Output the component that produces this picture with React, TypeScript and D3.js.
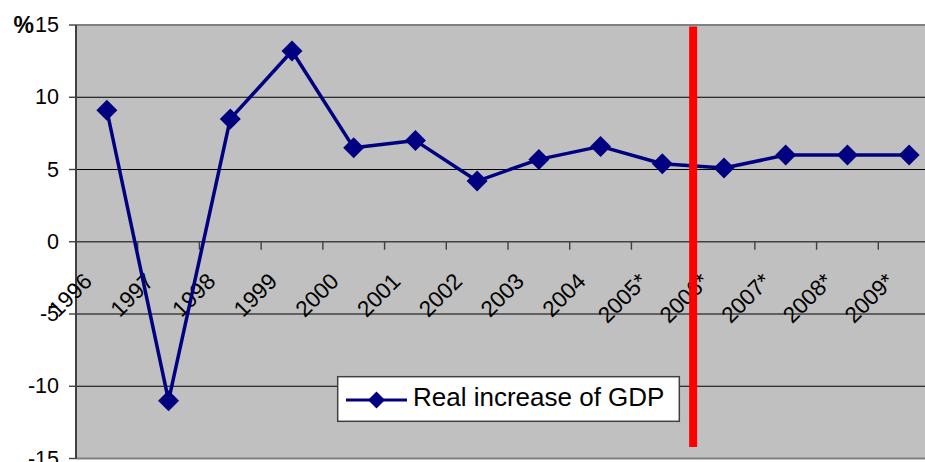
import React from "react";
import * as d3 from "d3";

// Real GDP growth, % per year (starred years are forecasts)
const years = ["1996", "1997", "1998", "1999", "2000", "2001", "2002", "2003", "2004", "2005*", "2006*", "2007*", "2008*", "2009*"];
const gdpGrowth = [9.1, -11.0, 8.5, 13.2, 6.5, 7.0, 4.2, 5.7, 6.6, 5.4, 5.1, 6.0, 6.0, 6.0];
const yTicks = [15, 10, 5, 0, -5, -10, -15];
const forecastStart = "2006*";
const seriesName = "Real increase of GDP";

const W = 925;
const H = 462;
const plot = { left: 76, top: 25, right: 940, bottom: 458.5 };
const FONT = "'Liberation Sans', Arial, Helvetica, sans-serif";
const NAVY = "#000080";

export default function App() {
  const x = d3.scaleBand<string>().domain(years).range([plot.left, plot.right]).paddingInner(0).paddingOuter(0);
  const y = d3.scaleLinear().domain([-15, 15]).range([plot.bottom, plot.top]);
  const cx = (c: string) => (x(c) ?? 0) + x.bandwidth() / 2;

  const line = d3
    .line<number>()
    .x((_, i) => cx(years[i]))
    .y((v) => y(v));

  const diamond = (px: number, py: number, r: number) =>
    `M${px},${py - r}L${px + r},${py}L${px},${py + r}L${px - r},${py}Z`;

  const boundaries = d3.range(1, years.length + 1).map((i) => plot.left + i * x.bandwidth());
  const redX = x(forecastStart) ?? 0;
  const y0 = y(0);

  return (
    <svg
      width={W}
      height={H}
      style={{ position: "absolute", left: 0, top: 0, background: "#fff", overflow: "hidden" }}
      fontFamily={FONT}
    >
      {/* plot area */}
      <rect x={plot.left} y={plot.top} width={plot.right - plot.left} height={plot.bottom - plot.top} fill="#C0C0C0" />
      <line x1={plot.left} x2={plot.right} y1={plot.top} y2={plot.top} stroke="#808080" strokeWidth={2} />
      <line x1={plot.left} x2={plot.right} y1={plot.bottom} y2={plot.bottom} stroke="#808080" strokeWidth={2} />

      {/* horizontal gridlines */}
      {yTicks
        .filter((t) => t !== 15 && t !== -15 && t !== 0)
        .map((t) => (
          <line key={t} x1={plot.left} x2={plot.right} y1={y(t)} y2={y(t)} stroke="#000" strokeWidth={1} />
        ))}

      {/* category axis on the zero line */}
      <line x1={plot.left} x2={plot.right} y1={y0} y2={y0} stroke="#404040" strokeWidth={1.6} />
      {boundaries.map((bx, i) => (
        <line key={i} x1={bx} x2={bx} y1={y0} y2={y0 + 8} stroke="#404040" strokeWidth={1.4} />
      ))}

      {/* value axis */}
      <line x1={plot.left} x2={plot.left} y1={plot.top} y2={plot.bottom} stroke="#404040" strokeWidth={2} />
      {yTicks.map((t) => (
        <g key={t}>
          <line x1={plot.left - 7} x2={plot.left} y1={y(t)} y2={y(t)} stroke="#404040" strokeWidth={1.4} />
          <text x={59} y={y(t)} dy="0.33em" textAnchor="end" fontSize={21.5} fill="#000">
            {t}
          </text>
        </g>
      ))}
      <text x={34} y={33} textAnchor="end" fontSize={23} fontWeight="bold" fill="#000">
        %
      </text>

      {/* rotated category labels */}
      {years.map((c) => (
        <text
          key={c}
          transform={`translate(${cx(c) - 13.5},${y0 + 41}) rotate(-45)`}
          textAnchor="end"
          fontSize={22.5}
          fill="#000"
        >
          {c}
        </text>
      ))}

      {/* series */}
      <path d={line(gdpGrowth) ?? ""} fill="none" stroke={NAVY} strokeWidth={3.5} strokeLinejoin="round" />
      {gdpGrowth.map((v, i) => (
        <path key={i} d={diamond(cx(years[i]), y(v), 10.5)} fill={NAVY} />
      ))}

      {/* forecast divider */}
      <line x1={redX} x2={redX} y1={plot.top + 1.5} y2={447} stroke="#FF0000" strokeWidth={8} />

      {/* legend */}
      <g>
        <rect x={337.7} y={376.7} width={341.6} height={44.6} fill="#fff" stroke="#404040" strokeWidth={1.5} />
        <line x1={346} x2={407} y1={400} y2={400} stroke={NAVY} strokeWidth={3} />
        <path d={diamond(376.5, 400, 8.5)} fill={NAVY} />
        <text x={413} y={405.7} fontSize={26} fill="#000">
          {seriesName}
        </text>
      </g>
    </svg>
  );
}
